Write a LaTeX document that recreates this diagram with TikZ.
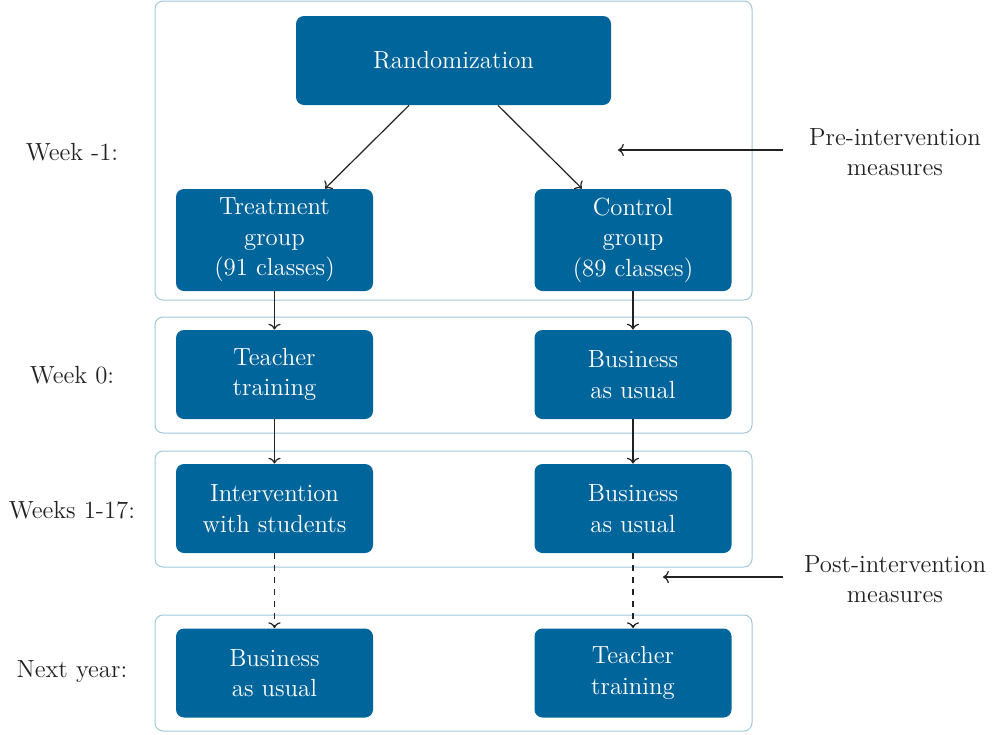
\documentclass[tikz,border=0pt]{standalone}
\usepackage{tikz}
\usetikzlibrary{arrows.meta, positioning}
\definecolor{trialBlue}{RGB}{0, 101, 155}
\definecolor{frameBlue}{RGB}{160, 200, 220}
\definecolor{inkGray}{RGB}{34, 34, 34}

\begin{document}
\begin{tikzpicture}[
  x=0.5pt, y=-0.5pt,
  box/.style={fill=trialBlue, draw=none, rounded corners=4pt,
              minimum width=98.5pt, minimum height=44.5pt,
              align=center, text=white,
              font=\fontsize{12.4}{15.2}\selectfont},
  phase/.style={draw=frameBlue, line width=0.5pt, rounded corners=4pt},
  label/.style={align=center, text=inkGray,
                font=\fontsize{12.4}{15.2}\selectfont},
  flow/.style={->, draw=inkGray, line width=0.6pt},
  >=To
]
  \useasboundingbox (0,0) rectangle (996,734);

  % Phase frames
  \draw[phase] (155,1)   rectangle (752,300);
  \draw[phase] (155,317) rectangle (752,433);
  \draw[phase] (155,451) rectangle (752,567);
  \draw[phase] (155,615) rectangle (752,731);

  % Week -1: randomization
  \node[box, minimum width=157.5pt] (rand) at (453.5,60.5) {Randomization};
  \node[box, minimum height=51pt] (treat) at (274.5,240) {Treatment\\group\\(91 classes)};
  \node[box, minimum height=51pt] (ctrl)  at (633,240)   {Control\\group\\(89 classes)};

  % Week 0
  \node[box] (train1) at (274.5,374.5) {Teacher\\training};
  \node[box] (usual1) at (633,374.5)   {Business\\as usual};

  % Weeks 1-17
  \node[box] (interv) at (274.5,508.5) {Intervention\\with students};
  \node[box] (usual2) at (633,508.5)   {Business\\as usual};

  % Next year
  \node[box] (usual3) at (274.5,673) {Business\\as usual};
  \node[box] (train2) at (633,673)   {Teacher\\training};

  % Row labels
  \node[label] (w1) at (72,152) {Week -1:};
  \node[label] (w0) at (72,375) {Week 0:};
  \node[label] (w17) at (72,510) {Weeks 1-17:};
  \node[label] (wn) at (72,672) {Next year:};

  % Measures
  \node[label] (pre)  at (895,152) {Pre-intervention\\measures};
  \node[label] (post) at (895,579) {Post-intervention\\measures};
  \coordinate (preEnd)  at (618,150);
  \coordinate (postEnd) at (663,577);
  \coordinate (preStart)  at (783,150);
  \coordinate (postStart) at (783,577);
  \draw[flow] (preStart) -- (preEnd);
  \draw[flow] (postStart) -- (postEnd);

  % Flow arrows
  \draw[flow] ([xshift=-22.25pt]rand.south) -- ([xshift=25.25pt]treat.north);
  \draw[flow] ([xshift=22.25pt]rand.south)  -- ([xshift=-25.5pt]ctrl.north);
  \draw[flow] (treat) -- (train1);
  \draw[flow] (ctrl) -- (usual1);
  \draw[flow] (train1) -- (interv);
  \draw[flow] (usual1) -- (usual2);
  \draw[flow, dashed] (interv) -- (usual3);
  \draw[flow, dashed] (usual2) -- (train2);

\end{tikzpicture}
\end{document}
